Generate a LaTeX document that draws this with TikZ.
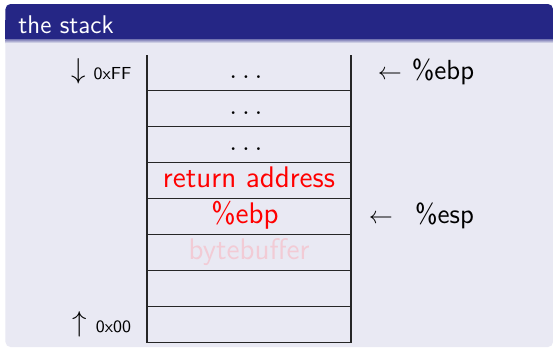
\documentclass[tikz,border=0pt]{standalone}
\usepackage{fontspec}
\definecolor{titlebg}{RGB}{37,38,133}
\definecolor{bodybg}{RGB}{233,233,243}
\definecolor{bufpink}{RGB}{242,203,213}
\definecolor{stackred}{RGB}{255,0,0}
\begin{document}
\begin{tikzpicture}[x=0.5pt,y=-0.5pt,
  celltext/.style={anchor=base,inner sep=0pt,font=\sffamily\fontsize{14.9}{17}\selectfont},
  sidetext/.style={anchor=base,inner sep=0pt,font=\sffamily\fontsize{13.8}{16}\selectfont},
  addrtext/.style={anchor=base,inner sep=0pt,font=\sffamily\fontsize{8.7}{10}\selectfont},
  arrowtext/.style={anchor=base,inner sep=0pt,font=\fontsize{14}{16}\selectfont},
  stackline/.style={line width=0.6pt,draw=black!85}]
\useasboundingbox (0,0) rectangle (554,350);
\fill[white] (0,0) rectangle (554,350);
% block body
\fill[bodybg,rounded corners=2.5pt] (5.5,30) rectangle (553,347);
% block title
\fill[titlebg,rounded corners=2.5pt] (5.5,4) rectangle (553,30);
\fill[titlebg] (5.5,20) rectangle (553,39);
\shade[top color=titlebg!60!bodybg, bottom color=bodybg] (5.5,39) rectangle (553,43);
\node[anchor=base west,inner sep=0pt,text=white,font=\sffamily\fontsize{12.8}{15}\selectfont] (title) at (18,33) {the stack};
% stack
\coordinate (tl) at (147,55);
\coordinate (tr) at (351,55);
\coordinate (bl) at (147,342.7);
\coordinate (br) at (351,342.7);
\draw[stackline] (tl) -- (bl) -- (br) -- (tr);
\foreach \i in {0,...,6}
  \draw[stackline] (147,{90.7+36*\i}) -- (351,{90.7+36*\i});
% cell texts
\node[celltext] (c1) at (246,78) {$\ldots$};
\node[celltext] (c2) at (246,114) {$\ldots$};
\node[celltext] (c3) at (246,150) {$\ldots$};
\node[celltext,text=stackred] (ret) at (249,187) {return address};
\node[celltext,text=stackred] (ebpcell) at (245,223) {\%ebp};
\node[celltext,text=bufpink] (buf) at (249,259.5) {bytebuffer};
% left labels
\node[arrowtext] (down) at (78.5,78.8) {$\downarrow$};
\node[addrtext] (ff) at (112.5,79.2) {0xFF};
\node[arrowtext] (up) at (80,331.6) {$\uparrow$};
\node[addrtext] (zero) at (113.5,332) {0x00};
% right labels
\node[arrowtext,font=\fontsize{13.2}{16}\selectfont] (la1) at (390,79.5) {$\leftarrow$};
\node[sidetext] (ebp) at (443,79) {\%ebp};
\node[arrowtext,font=\fontsize{13.2}{16}\selectfont] (la2) at (381,223) {$\leftarrow$};
\node[sidetext] (esp) at (444.5,223) {\%esp};
\end{tikzpicture}
\end{document}
